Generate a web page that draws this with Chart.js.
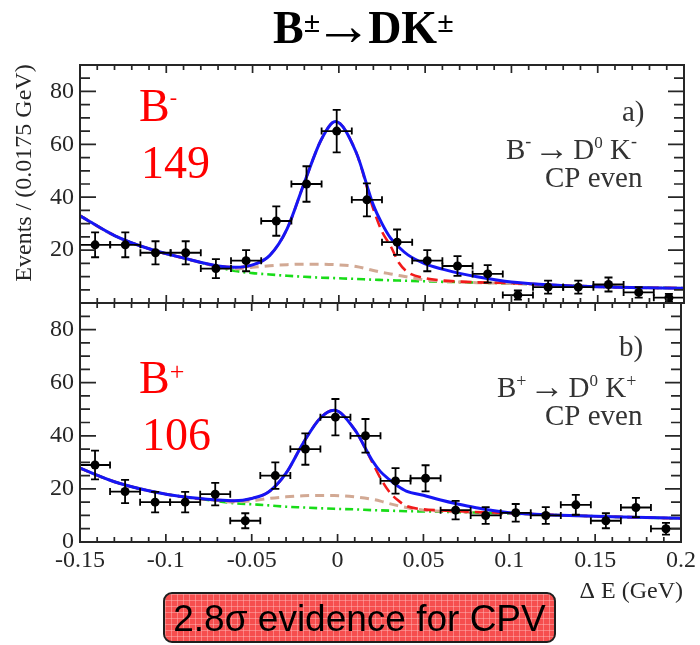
<!DOCTYPE html>
<html>
<head>
<meta charset="utf-8">
<title>B± → DK± — CP-even ΔE fits</title>
<script src="https://cdn.jsdelivr.net/npm/chart.js@4.4.1/dist/chart.umd.min.js"></script>
<style>
  html, body { margin: 0; padding: 0; background: #fff; }
  #wrap { position: relative; width: 700px; height: 645px; overflow: hidden; }
  #wrap canvas { position: absolute; left: 0; top: 0; }
  #cpv {
    position: absolute; left: 163px; top: 592px; width: 389px; height: 45px;
    padding-top: 2px; line-height: 45px; text-align: center;
    border: 2px solid #1e1e1e; border-radius: 9px;
    background-color: #f64e4e;
    background-image:
      linear-gradient(rgba(255,190,190,0.45) 1px, transparent 1px),
      linear-gradient(90deg, rgba(255,190,190,0.45) 1px, transparent 1px);
    background-size: 6px 6px;
    font-family: "Liberation Sans", Arial, sans-serif; font-size: 37px; color: #000;
    white-space: nowrap;
  }
</style>
</head>
<body>
<div id="wrap">
  <canvas id="panelMinus" width="700" height="645"></canvas>
  <canvas id="panelPlus" width="700" height="645"></canvas>
  <div id="cpv">2.8σ evidence for CPV</div>
</div>
<script>
// ΔE bins (GeV), width 0.0175 GeV
const binCenters = [-0.14125, -0.12375, -0.10625, -0.08875, -0.07125, -0.05375, -0.03625, -0.01875, -0.00125, 0.01625,
                    0.03375, 0.05125, 0.06875, 0.08625, 0.10375, 0.12125, 0.13875, 0.15625, 0.17375, 0.19125];
const binHalfWidth = 0.00875;

// event counts per bin
const eventsMinus = [22, 22, 19, 19, 13, 16, 31, 45, 65, 39, 23, 16, 14, 11, 3, 6, 6, 7, 4, 2];
const eventsPlus  = [29, 19, 15, 15, 18, 8, 25, 35, 47, 40, 23, 24, 12, 10, 11, 10, 14, 8, 13, 5];

// fit curves, sampled on this ΔE grid
const fitGrid = [-0.15, -0.13, -0.11, -0.09, -0.07, -0.06, -0.05, -0.04, -0.03, -0.02, -0.01, -0.002, 0.01,
                 0.02, 0.025, 0.03, 0.035, 0.04, 0.05, 0.06, 0.07, 0.08, 0.10, 0.13, 0.16, 0.20];

const totalMinus   = [33, 25.5, 20.5, 17, 14.0, 13.5, 14.4, 18, 28, 45.5, 62, 68.6, 57, 37, 30, 24.5, 21, 18.2, 14.8, 12.8, 11.2, 9.9, 7.9, 6.6, 6.0, 5.6];
const signalMinus  = [33, 25.5, 20.5, 17, 14.0, 13.5, 14.4, 18, 28, 45.5, 62, 68.6, 57, 35.5, 27, 21.5, 15, 11.6, 9.4, 8.5, 8.1, 7.8, 7.5, 6.6, 6.0, 5.6];
const peakingMinus = [33, 25.5, 20.5, 17, 13.8, 12.9, 13.5, 14.1, 14.5, 14.7, 14.7, 14.5, 13.8, 12.3, 11.6, 11.0, 10.4, 9.8, 8.7, 8.2, 7.9, 7.7, 7.4, 6.6, 6.0, 5.6];
const combMinus    = [33, 25.5, 20.5, 17, 13.6, 12.1, 11.3, 10.8, 10.3, 9.9, 9.6, 9.4, 9.1, 8.8, 8.7, 8.6, 8.5, 8.4, 8.2, 8.0, 7.9, 7.7, 7.4, 6.6, 6.0, 5.6];

const totalPlus    = [27.8, 22.7, 19.3, 17, 15.8, 15.5, 16.4, 18.9, 25.9, 37.3, 46.7, 49.6, 42.3, 30.9, 26.5, 23.6, 21.1, 19.2, 17.6, 15.8, 14.3, 13.0, 11.0, 10.1, 9.5, 8.9];
const signalPlus   = [27.8, 22.7, 19.3, 17, 15.8, 15.5, 16.4, 18.9, 25.9, 37.3, 46.7, 49.6, 42.3, 30.3, 24.0, 19.0, 15.8, 13.6, 12.3, 11.9, 11.6, 11.3, 10.9, 10.1, 9.5, 8.9];
const peakingPlus  = [27.8, 22.7, 19.3, 17, 15.6, 15.1, 15.5, 16.4, 17.0, 17.4, 17.5, 17.5, 17.0, 16.1, 15.4, 14.5, 13.7, 13.0, 12.0, 11.6, 11.3, 11.1, 10.7, 10.1, 9.5, 8.9];
const combPlus     = [27.8, 22.7, 19.3, 17, 15.4, 14.6, 14.2, 13.8, 13.3, 13.0, 12.7, 12.5, 12.3, 12.0, 11.9, 11.8, 11.7, 11.6, 11.5, 11.4, 11.2, 11.1, 10.7, 10.1, 9.5, 8.9];

// axis ticks
const xTicks = [-0.15, -0.1, -0.05, 0, 0.05, 0.1, 0.15, 0.2];
const xTickLabels = ['-0.15', '-0.1', '-0.05', '0', '0.05', '0.1', '0.15', '0.2'];
const yTicksMinus = [20, 40, 60, 80];
const yTicksPlus = [0, 20, 40, 60, 80];

const SERIF = '"Liberation Serif", "Times New Roman", serif';

function xy(xs, ys) { return xs.map((v, i) => ({ x: v, y: ys[i] })); }

function curve(ys, color, width, dash, order) {
  return {
    type: 'line', data: xy(fitGrid, ys), borderColor: color, borderWidth: width,
    borderDash: dash, pointRadius: 0, cubicInterpolationMode: 'monotone', fill: false, order: order
  };
}

function drawRich(ctx, x, y, parts, color) {
  ctx.save();
  ctx.fillStyle = color;
  ctx.textAlign = 'left';
  ctx.textBaseline = 'alphabetic';
  for (const p of parts) {
    ctx.font = p.font;
    ctx.fillText(p.t, x, y + (p.dy || 0));
    x += ctx.measureText(p.t).width + (p.gap || 0);
  }
  ctx.restore();
}

// error bars, frame, inward ticks and panel annotations
const decor = {
  id: 'decor',
  afterDatasetsDraw(chart, args, o) {
    const { ctx, chartArea: a, scales: { x, y } } = chart;
    ctx.save();
    ctx.beginPath();
    ctx.rect(a.left, a.top, a.right - a.left, a.bottom - a.top);
    ctx.clip();
    ctx.strokeStyle = '#000';
    ctx.lineWidth = 1.8;
    o.counts.forEach((n, i) => {
      const c = binCenters[i];
      const cx = x.getPixelForValue(c), cy = y.getPixelForValue(n);
      const xl = x.getPixelForValue(c - binHalfWidth), xr = x.getPixelForValue(c + binHalfWidth);
      const e = Math.sqrt(n);
      const yt = y.getPixelForValue(n + e), yb = y.getPixelForValue(Math.max(n - e, 0));
      ctx.beginPath();
      ctx.moveTo(xl, cy); ctx.lineTo(xr, cy);
      ctx.moveTo(xl, cy - 3.5); ctx.lineTo(xl, cy + 3.5);
      ctx.moveTo(xr, cy - 3.5); ctx.lineTo(xr, cy + 3.5);
      ctx.moveTo(cx, yt); ctx.lineTo(cx, yb);
      ctx.moveTo(cx - 4, yt); ctx.lineTo(cx + 4, yt);
      ctx.moveTo(cx - 4, yb); ctx.lineTo(cx + 4, yb);
      ctx.stroke();
    });
    ctx.restore();
  },
  afterDraw(chart, args, o) {
    const { ctx, chartArea: a, scales: { x, y } } = chart;
    ctx.save();
    ctx.strokeStyle = '#262626';
    ctx.lineWidth = 1.7;
    ctx.beginPath();
    for (let k = 1; k < 18; k++) {
      const v = k * 5;
      const major = v % 20 === 0;
      const len = major ? 16 : 10;
      const py = y.getPixelForValue(v);
      ctx.moveTo(a.left, py); ctx.lineTo(a.left + len, py);
      ctx.moveTo(a.right, py); ctx.lineTo(a.right - len, py);
    }
    for (let k = -14; k < 20; k++) {
      const major = k % 5 === 0;
      const len = major ? 8 : 5;
      const px = x.getPixelForValue(k / 100);
      ctx.moveTo(px, a.bottom); ctx.lineTo(px, a.bottom - len);
      ctx.moveTo(px, a.top); ctx.lineTo(px, a.top + len);
    }
    ctx.stroke();
    ctx.lineWidth = 2;
    ctx.strokeRect(a.left, a.top, a.right - a.left, a.bottom - a.top);
    ctx.restore();
    o.texts(ctx);
  }
};

function panelOptions(yTicks, showX, padding, counts, texts) {
  return {
    responsive: false,
    animation: false,
    events: [],
    layout: { padding: padding },
    plugins: {
      legend: { display: false },
      tooltip: { enabled: false },
      decor: { counts: counts, texts: texts }
    },
    scales: {
      x: {
        type: 'linear', min: -0.15, max: 0.2, display: showX,
        grid: { display: false, drawTicks: false }, border: { display: false },
        afterBuildTicks: s => { s.ticks = xTicks.map(v => ({ value: v })); },
        afterFit: s => { s.height = showX ? 45 : 0; },
        ticks: {
          autoSkip: false, maxRotation: 0, padding: 4, color: '#262626',
          font: { family: SERIF, size: 24 },
          callback: (v, i) => xTickLabels[i]
        }
      },
      y: {
        type: 'linear', min: 0, max: 90,
        grid: { display: false, drawTicks: false }, border: { display: false },
        afterBuildTicks: s => { s.ticks = yTicks.map(v => ({ value: v })); },
        afterFit: s => { s.width = 80; },
        ticks: { padding: 6, color: '#262626', font: { family: SERIF, size: 24 } }
      }
    }
  };
}

function datasets(counts, total, signal, peaking, comb) {
  return [
    { type: 'scatter', data: xy(binCenters, counts), pointRadius: 4.5, pointBackgroundColor: '#000',
      pointBorderWidth: 0, order: 0 },
    curve(total, '#1616f5', 3, [], 1),
    curve(signal, '#f21a1a', 2.6, [11, 6], 2),
    curve(peaking, '#d2a994', 3, [9, 6], 3),
    curve(comb, '#18dc18', 2.6, [8, 4, 2, 4], 4)
  ];
}

const LBL = '29px ' + SERIF;
const SUP = '18px ' + SERIF;
const ARR = '35px ' + SERIF;

function decayLabel(ctx, x, y, charge) {
  const sdy = charge === '-' ? -12 : -10;
  drawRich(ctx, x, y, [
    { t: 'B', font: LBL },
    { t: charge, font: SUP, dy: sdy, gap: 3 },
    { t: '→', font: ARR, dy: 1, gap: 4 },
    { t: 'D', font: LBL },
    { t: '0', font: '17px ' + SERIF, dy: -11 },
    { t: ' K', font: LBL },
    { t: charge, font: SUP, dy: sdy }
  ], '#333');
}

function textsMinus(ctx) {
  // heading
  drawRich(ctx, 273, 43, [
    { t: 'B', font: 'bold 46px ' + SERIF },
    { t: '±', font: 'bold 30px ' + SERIF, dy: -11, gap: -6 },
    { t: '→', font: 'bold 58px ' + SERIF, dy: 2, gap: -4 },
    { t: 'DK', font: 'bold 46px ' + SERIF },
    { t: '±', font: 'bold 30px ' + SERIF, dy: -11 }
  ], '#000');
  // y-axis title
  ctx.save();
  ctx.translate(30.5, 173);
  ctx.rotate(-Math.PI / 2);
  ctx.font = '24px ' + SERIF;
  ctx.fillStyle = '#262626';
  ctx.textAlign = 'center';
  ctx.textBaseline = 'alphabetic';
  ctx.fillText('Events / (0.0175 GeV)', 0, 0);
  ctx.restore();
  // yield
  drawRich(ctx, 139, 121, [
    { t: 'B', font: '46px ' + SERIF },
    { t: '-', font: '22px ' + SERIF, dy: -17 }
  ], '#ff0000');
  drawRich(ctx, 141, 178, [{ t: '149', font: '46px ' + SERIF }], '#ff0000');
  // panel label
  drawRich(ctx, 622, 121, [{ t: 'a)', font: LBL }], '#333');
  decayLabel(ctx, 506, 159, '-');
  drawRich(ctx, 545, 187, [{ t: 'CP even', font: LBL }], '#333');
}

function textsPlus(ctx) {
  drawRich(ctx, 139, 393, [
    { t: 'B', font: '46px ' + SERIF },
    { t: '+', font: '26px ' + SERIF, dy: -13 }
  ], '#ff0000');
  drawRich(ctx, 142, 450, [{ t: '106', font: '46px ' + SERIF }], '#ff0000');
  drawRich(ctx, 619, 356, [{ t: 'b)', font: LBL }], '#333');
  decayLabel(ctx, 497, 397, '+');
  drawRich(ctx, 545, 425, [{ t: 'CP even', font: LBL }], '#333');
  // x-axis title
  ctx.save();
  ctx.font = '24px ' + SERIF;
  ctx.fillStyle = '#262626';
  ctx.textAlign = 'right';
  ctx.textBaseline = 'alphabetic';
  ctx.fillText('Δ E (GeV)', 683, 598);
  ctx.restore();
}

new Chart(document.getElementById('panelMinus'), {
  type: 'line',
  data: { datasets: datasets(eventsMinus, totalMinus, signalMinus, peakingMinus, combMinus) },
  options: panelOptions(yTicksMinus, false, { left: 0, right: 16, top: 65, bottom: 342 }, eventsMinus, textsMinus),
  plugins: [decor]
});

new Chart(document.getElementById('panelPlus'), {
  type: 'line',
  data: { datasets: datasets(eventsPlus, totalPlus, signalPlus, peakingPlus, combPlus) },
  options: panelOptions(yTicksPlus, true, { left: 0, right: 16, top: 303, bottom: 58 }, eventsPlus, textsPlus),
  plugins: [decor]
});
</script>
</body>
</html>
